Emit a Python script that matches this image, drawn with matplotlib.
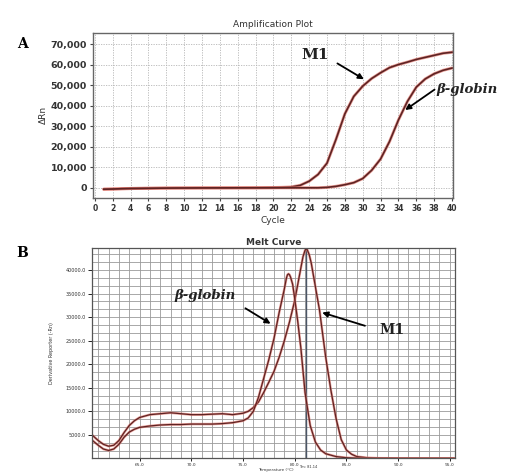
import matplotlib
matplotlib.use("Agg")
import matplotlib.pyplot as plt
import numpy as np
from matplotlib.ticker import MultipleLocator, FixedLocator

# ---------------- Amplification data ----------------
cycles = list(range(1, 41))
m1_amp = [-700, -600, -450, -350, -300, -250, -200, -150, -120, -100,
          -80, -60, -50, -40, -30, -20, -10, 0, 50, 100,
          200, 400, 1200, 3200, 6500, 12000, 23500, 36000, 44500, 49500,
          53200, 56000, 58500, 60000, 61200, 62500, 63500, 64500, 65500, 66000]
bglob_amp = [-700, -600, -450, -350, -300, -250, -200, -150, -120, -100,
             -80, -60, -50, -40, -30, -20, -10, 0, 0, 0,
             0, 0, 0, 0, 0, 200, 700, 1500, 2500, 4500,
             8500, 14000, 22500, 33000, 42000, 49000, 53000, 55500, 57200, 58300]
amp_yticks = [0, 10000, 20000, 30000, 40000, 50000, 60000, 70000]
amp_ytick_labels = ["0", "10,000", "20,000", "30,000", "40,000", "50,000", "60,000", "70,000"]
amp_xticks = list(range(0, 41, 2))

# ---------------- Melt data ----------------
temp_m1 = [60.4, 61.0, 61.5, 62.0, 62.5, 63.0, 63.5, 64.0, 64.5, 65.0, 66.0, 67.0, 68.0,
           69.0, 70.0, 71.0, 72.0, 73.0, 74.0, 75.0, 75.5, 76.0, 76.5, 77.0, 77.5,
           78.0, 78.5, 79.0, 79.5, 80.0, 80.3, 80.6, 80.8, 81.0, 81.1, 81.2, 81.4, 81.6,
           82.0, 82.4, 82.7, 83.0, 83.5, 84.0, 84.5, 85.0, 85.5, 86.0, 87.0, 88.0, 90.0,
           92.0, 95.4]
melt_m1 = [5000, 3800, 3000, 2600, 2800, 3800, 5500, 7000, 8000, 8700, 9300, 9500, 9700,
           9500, 9300, 9300, 9400, 9500, 9300, 9600, 10000, 10800, 12000, 14000, 16200,
           18500, 21500, 25000, 29000, 33500, 37000, 40500, 42800, 44200, 44500, 44400, 43300, 41500,
           36500, 31500, 26500, 21500, 14500, 8500, 4000, 1800, 900, 400, 150, 60, 30,
           20, 20]
temp_bg = [60.4, 61.0, 61.5, 62.0, 62.5, 63.0, 63.5, 64.0, 64.5, 65.0, 66.0, 67.0, 68.0,
           69.0, 70.0, 71.0, 72.0, 73.0, 74.0, 75.0, 75.5, 76.0, 76.5, 77.0, 77.5,
           78.0, 78.5, 79.0, 79.2, 79.3, 79.4, 79.5, 79.6, 79.8, 80.0, 80.3, 80.6, 81.0,
           81.5, 82.0, 82.5, 83.0, 84.0, 85.0, 86.0, 88.0, 90.0, 92.0, 95.4]
melt_bg = [3900, 2800, 2000, 1700, 2000, 3000, 4500, 5600, 6200, 6600, 6900, 7100, 7200,
           7200, 7300, 7300, 7300, 7400, 7600, 8000, 8600, 10000, 13000, 17000, 21000,
           25500, 31000, 36000, 38300, 39000, 39200, 39000, 38500, 37000, 34000, 29000, 23400,
           14000, 7000, 3500, 1800, 1000, 400, 150, 60, 30, 20, 20, 20]
melt_yticks = [5000, 10000, 15000, 20000, 25000, 30000, 35000, 40000]
melt_xticks = [65, 70, 75, 80, 85, 90, 95]
tm_value = 81.1

dark = "#5e2323"
halo = "#e0766c"

fig = plt.figure(figsize=(5.17, 4.72), dpi=100)
fig.patch.set_facecolor("white")

# ---------------- Panel A ----------------
axA = fig.add_axes([0.180, 0.581, 0.696, 0.349])
for y in (m1_amp, bglob_amp):
    axA.plot(cycles, y, color=halo, lw=2.2, alpha=0.7, solid_capstyle="round")
    axA.plot(cycles, y, color=dark, lw=1.2)
axA.set_xlim(-0.2, 40.1)
axA.set_ylim(-4860, 75350)
axA.set_xticks(amp_xticks)
axA.set_xticklabels([str(v) for v in amp_xticks], fontsize=5.5, fontweight="bold", color="#333333")
axA.set_yticks(amp_yticks)
axA.set_yticklabels(amp_ytick_labels, fontsize=6.8, fontweight="bold", color="#333333")
axA.grid(True, color="#b5b5b5", lw=0.6, ls=(0, (1.5, 1.5)))
axA.tick_params(axis="both", length=2.5, width=0.8, color="#444444", pad=2)
for s in axA.spines.values():
    s.set_color("#666666")
    s.set_linewidth(1.0)
axA.set_title("Amplification Plot", fontsize=6.5, pad=4, color="#333333")
axA.set_xlabel("Cycle", fontsize=6.5, labelpad=2, color="#333333")
axA.set_ylabel("ΔRn", fontsize=6.5, labelpad=2, color="#333333")

axA.annotate("", xy=(30.4, 52160), xytext=(26.9, 61250),
             arrowprops=dict(arrowstyle="-|>", color="black", lw=1.3, mutation_scale=8))
axA.text(24.65, 64660, "M1", fontsize=11, fontweight="bold", family="DejaVu Serif",
         ha="center", va="center", color="#222222")
axA.annotate("", xy=(34.5, 37100), xytext=(38.3, 48600),
             arrowprops=dict(arrowstyle="-|>", color="black", lw=1.3, mutation_scale=8))
axA.text(41.7, 47640, "β-globin", fontsize=9.5, fontweight="bold", style="italic",
         family="DejaVu Serif", ha="center", va="center", color="#222222", clip_on=False)
fig.text(22 / 517, 1 - 44 / 472, "A", fontsize=10, fontweight="bold", family="DejaVu Serif",
         ha="center", va="center")

# ---------------- Panel B ----------------
axB = fig.add_axes([0.178, 0.0297, 0.702, 0.445])
axB.set_xlim(60.4, 95.5)
axB.set_ylim(100, 44700)
axB.xaxis.set_major_locator(FixedLocator(melt_xticks))
axB.xaxis.set_minor_locator(MultipleLocator(1))
axB.yaxis.set_major_locator(FixedLocator(melt_yticks))
axB.yaxis.set_minor_locator(MultipleLocator(5000 / 3))
axB.grid(True, which="both", color="#9a9a9a", lw=0.6)
axB.set_axisbelow(True)
axB.axvline(tm_value, color="#4a5566", lw=1.0)
for T, y in ((temp_m1, melt_m1), (temp_bg, melt_bg)):
    axB.plot(T, y, color=halo, lw=1.8, alpha=0.7)
    axB.plot(T, y, color=dark, lw=0.9)
axB.set_xticklabels(["%.1f" % v for v in melt_xticks], fontsize=3.2, color="#333333")
axB.set_yticklabels(["%.1f" % v for v in melt_yticks], fontsize=3.5, color="#333333")
axB.tick_params(axis="x", which="major", length=2.5, width=0.6, pad=1)
axB.tick_params(axis="y", which="major", length=3, width=0.6, pad=1.5)
axB.tick_params(axis="both", which="minor", length=0)
for s in axB.spines.values():
    s.set_color("#555555")
    s.set_linewidth(0.9)
axB.set_title("Melt Curve", fontsize=6.5, fontweight="bold", pad=2, color="#333333")
axB.set_ylabel("Derivative Reporter (-Rn)", fontsize=3.5, labelpad=8, color="#333333")
fig.text(276 / 517, 1 - 470 / 472, "Temperature (°C)", fontsize=3.0,
         ha="center", va="center", color="#333333")
fig.text(299 / 517, 1 - 466.5 / 472, "Tm: 81.14", fontsize=2.6,
         ha="left", va="center", color="#333333")

axB.annotate("", xy=(77.9, 28300), xytext=(75.0, 32200),
             arrowprops=dict(arrowstyle="-|>", color="black", lw=1.3, mutation_scale=8))
axB.text(71.3, 34700, "β-globin", fontsize=9.5, fontweight="bold", style="italic",
         family="DejaVu Serif", ha="center", va="center", color="#222222")
axB.annotate("", xy=(82.4, 31150), xytext=(87.05, 28000),
             arrowprops=dict(arrowstyle="-|>", color="black", lw=1.3, mutation_scale=8))
axB.text(89.4, 27300, "M1", fontsize=10, fontweight="bold", family="DejaVu Serif",
         ha="center", va="center", color="#222222")
fig.text(22 / 517, 1 - 253 / 472, "B", fontsize=10, fontweight="bold", family="DejaVu Serif",
         ha="center", va="center")

fig.savefig("out.png", dpi=100, facecolor="white")
